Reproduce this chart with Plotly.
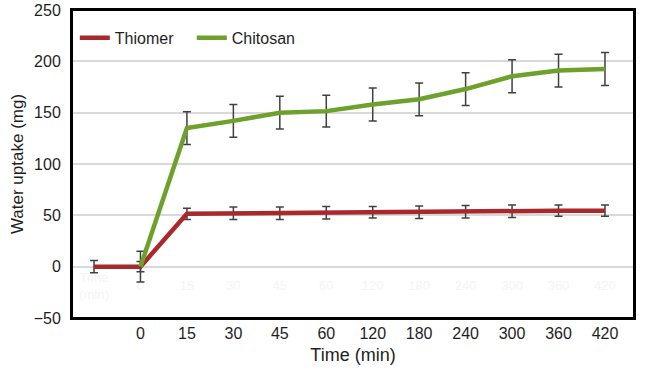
import plotly.graph_objects as go

categories = ["", "0", "15", "30", "45", "60", "120", "180", "240", "300", "360", "420"]
ghost_labels = ["Time<br>(min)", "0", "15", "30", "45", "60", "120", "180", "240", "300", "360", "420"]

thiomer = [0, 0, 51.5, 52, 52, 52.5, 53, 53, 53.5, 54, 54.5, 54.5]
thiomer_err = [6, 5, 5.5, 6, 6, 6, 5.5, 6, 6, 6, 5.5, 5.5]

chitosan = [None, 0, 135, 142, 150, 151.5, 158, 163, 173, 185.5, 191, 192.5]
chitosan_err = [None, 15, 16, 16, 16, 15.5, 16, 16, 16, 16, 16, 16]

y_ticks = [-50, 0, 50, 100, 150, 200, 250]

idx = list(range(len(categories)))
font_family = "Arial, Liberation Sans, sans-serif"
text_color = "#1e1e1e"

fig = go.Figure()

# faint ghost labels inside plot
fig.add_trace(go.Scatter(
    x=idx, y=[-20] * len(idx), mode="text", text=ghost_labels,
    textfont=dict(color="#f4f4f4", size=13, family=font_family),
    showlegend=False, hoverinfo="skip"))

fig.add_trace(go.Scatter(
    x=idx, y=thiomer, mode="lines", name="Thiomer",
    line=dict(color="#a8282c", width=4.5),
    error_y=dict(type="data", array=thiomer_err, visible=True,
                 color="#404040", thickness=1.5, width=4)))

fig.add_trace(go.Scatter(
    x=idx, y=chitosan, mode="lines", name="Chitosan",
    line=dict(color="#6ea12c", width=4.5),
    error_y=dict(type="data", array=chitosan_err, visible=True,
                 color="#404040", thickness=1.5, width=4)))

fig.add_shape(type="rect", xref="paper", yref="paper", x0=0, x1=1, y0=0, y1=1,
              line=dict(color="black", width=2), fillcolor="rgba(0,0,0,0)", layer="above")

fig.update_layout(
    width=646, height=374,
    margin=dict(l=72, r=12, t=10, b=56, autoexpand=False),
    paper_bgcolor="white", plot_bgcolor="white",
    font=dict(family=font_family, size=16, color=text_color),
    legend=dict(orientation="h", x=0.005, y=0.965, xanchor="left", yanchor="top",
                bgcolor="rgba(0,0,0,0)", font=dict(size=16, color=text_color),
                entrywidth=72, entrywidthmode="pixels", tracegroupgap=0),
    showlegend=True,
)

fig.update_xaxes(
    range=[-0.474, 11.625],
    tickmode="array", tickvals=idx, ticktext=categories,
    showgrid=False, zeroline=False,
    showline=True, mirror=True, linecolor="black", linewidth=2,
    ticks="", tickfont=dict(size=16, color=text_color),
    title=dict(text="Time (min)", font=dict(size=18, color=text_color), standoff=7),
)

fig.update_yaxes(
    range=[-50, 250],
    tickmode="array", tickvals=y_ticks,
    showgrid=True, gridcolor="#d9d9d9", gridwidth=1.5, zeroline=False,
    showline=True, mirror=True, linecolor="black", linewidth=2,
    ticks="", tickfont=dict(size=16, color=text_color), ticklabelstandoff=6,
    title=dict(text="Water uptake (mg)", font=dict(size=17, color=text_color), standoff=6),
)

fig.write_html("out.html", config={"displayModeBar": False},
               post_script="document.body.style.margin='0px';")
